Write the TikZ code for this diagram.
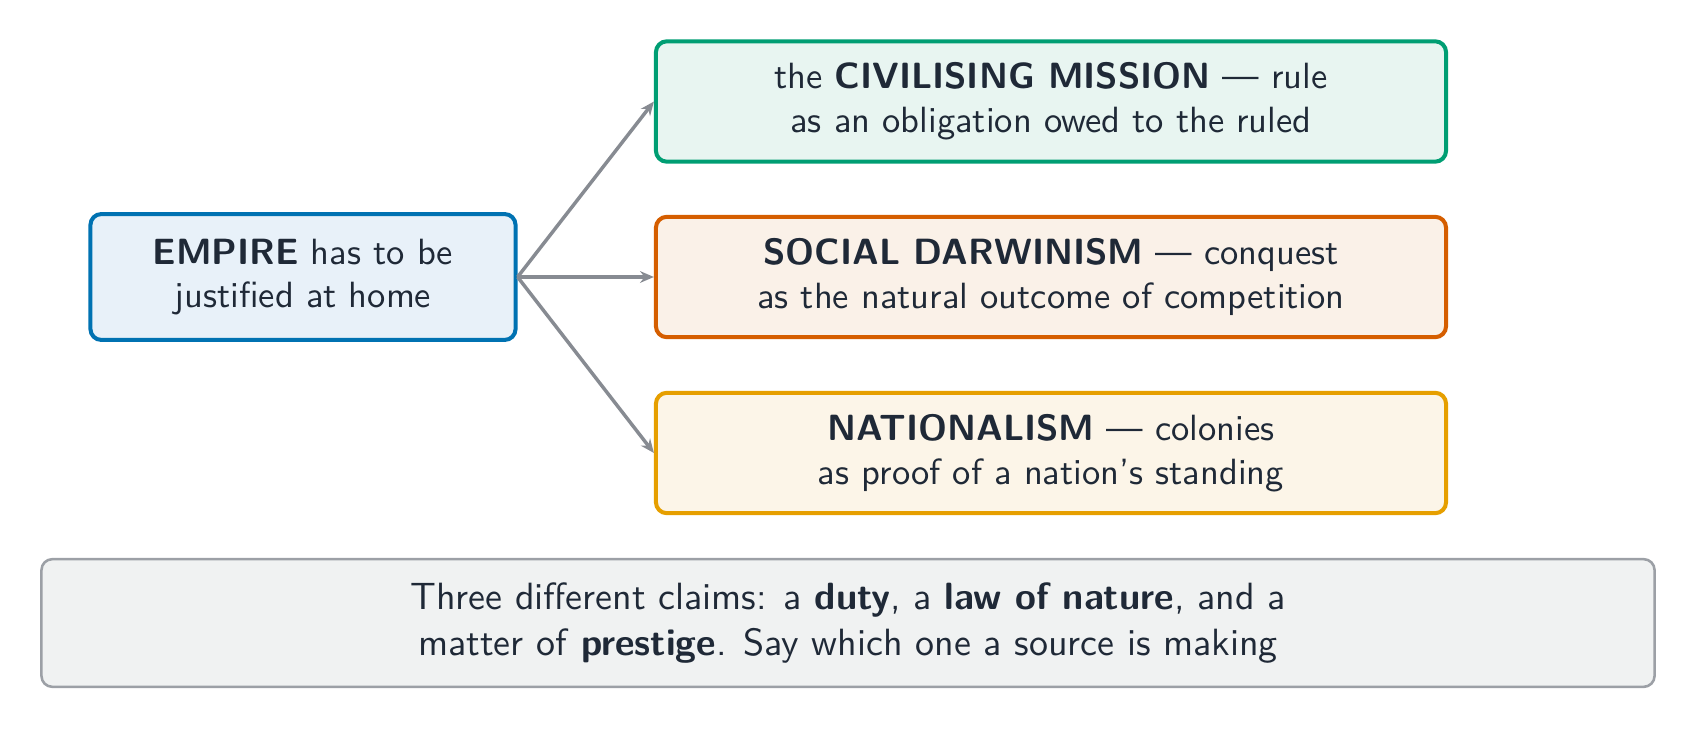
\documentclass[tikz,border=0pt]{standalone}
\usepackage{fontspec}
\usetikzlibrary{arrows.meta}
\definecolor{txt}{HTML}{1F2937}
\definecolor{empD}{HTML}{0072B2}\definecolor{empF}{HTML}{E8F1F9}
\definecolor{civD}{HTML}{009E73}\definecolor{civF}{HTML}{E8F5F1}
\definecolor{socD}{HTML}{D55E00}\definecolor{socF}{HTML}{FAF1E8}
\definecolor{natD}{HTML}{E69F00}\definecolor{natF}{HTML}{FCF5E8}
\definecolor{notD}{HTML}{9CA0A6}\definecolor{notF}{HTML}{F0F2F2}
\definecolor{arrC}{HTML}{878B92}
\begin{document}
\begin{tikzpicture}[x=0.274pt,y=-0.274pt,font=\sffamily,text=txt,
  box/.style={draw,rounded corners=3pt,line width=1.1pt,align=center,inner sep=0pt},
  claim/.style={box,minimum width=216.5pt,minimum height=33pt},
  arr/.style={draw=arrC,line width=0.95pt,-{Stealth[length=3.8pt,width=3.2pt]}}]
\useasboundingbox (0,0) rectangle (1696,729);
\node[box,draw=empD,fill=empF,minimum width=116.5pt,minimum height=34.5pt] (emp) at (303,277)
  {\textbf{EMPIRE} has to be\\justified at home};
\node[claim,draw=civD,fill=civF] (civ) at (1051,101.5)
  {the \textbf{CIVILISING MISSION} --- rule\\as an obligation owed to the ruled};
\node[claim,draw=socD,fill=socF] (soc) at (1051,277)
  {\textbf{SOCIAL DARWINISM} --- conquest\\as the natural outcome of competition};
\node[claim,draw=natD,fill=natF] (nat) at (1051,453)
  {\textbf{NATIONALISM} --- colonies\\as proof of a nation's standing};
\node[box,draw=notD,fill=notF,line width=0.7pt,minimum width=442pt,minimum height=35pt,
  font=\sffamily\fontsize{10.4}{12.6}\selectfont] (note) at (848,623)
  {Three different claims: a \textbf{duty}, a \textbf{law of nature}, and a\\matter of \textbf{prestige}. Say which one a source is making};
\draw[arr] (emp.east) -- (civ.west);
\draw[arr] (emp.east) -- (soc.west);
\draw[arr] (emp.east) -- (nat.west);
\end{tikzpicture}
\end{document}
